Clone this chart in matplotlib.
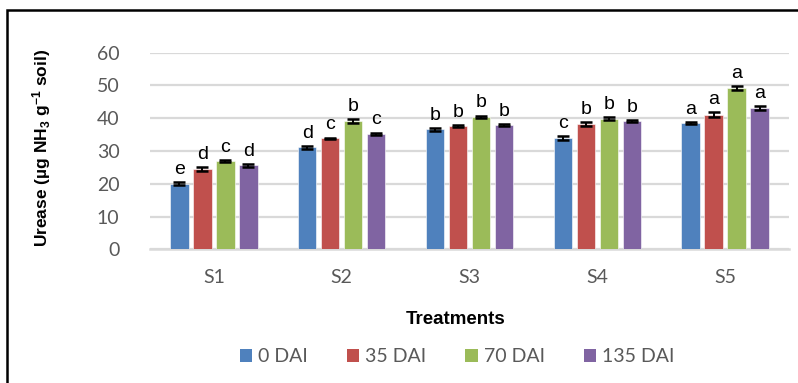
import matplotlib
matplotlib.use("Agg")
import matplotlib.pyplot as plt
from matplotlib.patches import Patch, Rectangle
import numpy as np

treatments = ["S1", "S2", "S3", "S4", "S5"]
series_names = ["0 DAI", "35 DAI", "70 DAI", "135 DAI"]
colors = ["#4F81BD", "#C0504D", "#9BBB59", "#8064A2"]

dai_0 = [20.0, 31.1, 36.6, 33.9, 38.5]
dai_35 = [24.5, 33.9, 37.6, 38.2, 41.1]
dai_70 = [27.0, 39.1, 40.4, 39.9, 49.1]
dai_135 = [25.6, 35.2, 37.9, 39.1, 43.1]

err_0 = [0.5, 0.5, 0.5, 0.6, 0.2]
err_35 = [0.5, 0.2, 0.2, 0.5, 0.8]
err_70 = [0.3, 0.6, 0.4, 0.4, 0.6]
err_135 = [0.4, 0.4, 0.2, 0.4, 0.6]

letters_0 = ["e", "d", "b", "c", "a"]
letters_35 = ["d", "c", "b", "b", "a"]
letters_70 = ["c", "b", "b", "b", "a"]
letters_135 = ["d", "c", "b", "b", "a"]

values = [dai_0, dai_35, dai_70, dai_135]
errors = [err_0, err_35, err_70, err_135]
letters = [letters_0, letters_35, letters_70, letters_135]

W, H = 798, 383
fig = plt.figure(figsize=(W / 100, H / 100), dpi=100)
ax = fig.add_axes([150 / W, (H - 249.3) / H, (789 - 150) / W, (249.3 - 52.7) / H])

tick_font = "Lato"
tick_color = "#595959"
grid_color = "#D9D9D9"

x = np.arange(len(treatments))
step = 0.18
width = 0.145
for i, (vals, errs, labs, col) in enumerate(zip(values, errors, letters, colors)):
    pos = x + (i - 1.5) * step
    ax.bar(pos, vals, width=width, color=col, edgecolor="white", linewidth=0.4, zorder=3)
    ax.errorbar(pos, vals, yerr=errs, fmt="none", ecolor="black", elinewidth=1.4,
                capsize=4, capthick=1.8, zorder=4)
    for p, v, e, lab in zip(pos, vals, errs, labs):
        ax.annotate(lab, (p, v + e), xytext=(0, 3), textcoords="offset points",
                    ha="center", va="bottom", fontsize=14, family="Liberation Sans",
                    color="black", zorder=5)

ax.set_xlim(-0.5, len(treatments) - 0.5)
ax.set_ylim(0, 60)
ax.set_yticks(np.arange(0, 61, 10))
ax.set_xticks(x)
ax.set_xticklabels(treatments)
ax.yaxis.grid(True, color=grid_color, linewidth=1.6, zorder=0)
ax.set_axisbelow(True)
for s in ["top", "right", "left"]:
    ax.spines[s].set_visible(False)
ax.spines["bottom"].set_color(grid_color)
ax.spines["bottom"].set_linewidth(1.8)
ax.tick_params(axis="both", length=0, labelsize=14, labelcolor=tick_color)
ax.tick_params(axis="y", pad=22)
ax.tick_params(axis="x", pad=14)
for lab in ax.get_xticklabels() + ax.get_yticklabels():
    lab.set_family(tick_font)

plt.rcParams["mathtext.fontset"] = "custom"
plt.rcParams["mathtext.rm"] = "Liberation Sans:bold"
plt.rcParams["mathtext.it"] = "Liberation Sans:bold"
plt.rcParams["mathtext.bf"] = "Liberation Sans:bold"

fig.text(42 / W, 1 - 148 / H, r"Urease (µg NH$_{3}$ g$^{-1}$ soil)", rotation=90,
         ha="center", va="center", fontsize=12.5, fontweight="bold",
         family="Liberation Sans", color="black")
fig.text(456 / W, 1 - 320 / H, "Treatments", ha="center", va="center",
         fontsize=13.5, fontweight="bold", family="Liberation Sans", color="black")

handles = [Patch(facecolor=c, edgecolor="none") for c in colors]
leg = fig.legend(handles, series_names, loc="center", ncol=4,
                 bbox_to_anchor=(457 / W, 1 - 357 / H), frameon=False,
                 handlelength=0.65, handleheight=0.65, handletextpad=0.3,
                 columnspacing=2.0, prop={"family": tick_font, "size": 14})
for t in leg.get_texts():
    t.set_color(tick_color)

# chart frame, partly outside the canvas on the right and bottom
fig.patches.append(Rectangle((7 / W, -0.05), 1.0, 1 - 10 / H + 0.05,
                             transform=fig.transFigure, fill=False,
                             edgecolor="black", linewidth=1.8))

fig.savefig("out.png", dpi=100)
